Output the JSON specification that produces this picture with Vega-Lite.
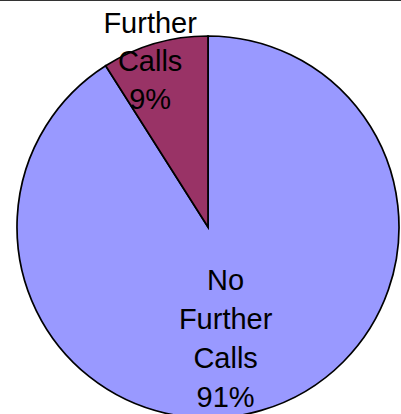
{
  "$schema": "https://vega.github.io/schema/vega-lite/v6.json",
  "width": 420,
  "height": 454,
  "autosize": {"type": "none"},
  "padding": {"left": -2, "top": 0, "right": -17, "bottom": -40},
  "background": "white",
  "view": {"stroke": "#333333", "strokeWidth": 2},
  "config": {"view": {"stroke": "#333333", "strokeWidth": 2}},
  "data": {"values": [
    {"category": "No Further Calls", "value": 91},
    {"category": "Further Calls", "value": 9}
  ]},
  "transform": [
    {"stack": "value", "groupby": [], "sort": [{"field": "category", "order": "descending"}], "as": ["v0", "v1"]},
    {"calculate": "(datum.v0 + datum.v1) / 2", "as": "mid"},
    {"calculate": "datum.category + ' ' + datum.value + '%'", "as": "label"}
  ],
  "layer": [
    {
      "mark": {"type": "arc", "outerRadius": 191, "stroke": "black", "strokeWidth": 1.7},
      "encoding": {
        "theta": {"field": "v0", "type": "quantitative", "stack": null, "scale": {"domain": [0, 100]}},
        "theta2": {"field": "v1"},
        "color": {"field": "category", "type": "nominal", "legend": null,
          "scale": {"domain": ["No Further Calls", "Further Calls"], "range": ["#9999FF", "#993366"]}}
      }
    },
    {
      "transform": [{"filter": "datum.category == 'Further Calls'"}],
      "mark": {"type": "text", "radius": 211, "dx": 1, "fontSize": 29, "font": "Liberation Sans", "lineBreak": " ", "lineHeight": 38, "color": "black", "align": "center", "baseline": "middle"},
      "encoding": {
        "theta": {"field": "mid", "type": "quantitative", "stack": null},
        "text": {"field": "label", "type": "nominal"}
      }
    },
    {
      "transform": [{"filter": "datum.category == 'No Further Calls'"}],
      "mark": {"type": "text", "radius": 56, "dx": 2, "fontSize": 29, "font": "Liberation Sans", "lineBreak": " ", "lineHeight": 39, "color": "black", "align": "center", "baseline": "middle"},
      "encoding": {
        "theta": {"field": "mid", "type": "quantitative", "stack": null},
        "text": {"field": "label", "type": "nominal"}
      }
    }
  ]
}
